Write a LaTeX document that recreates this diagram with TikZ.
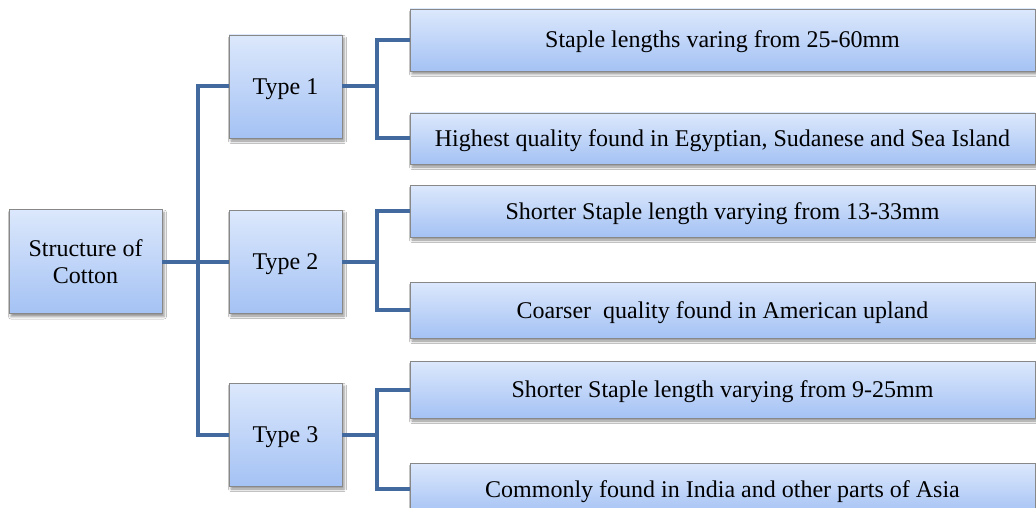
\documentclass[tikz,border=0pt]{standalone}
\usepackage{fontspec}
\setmainfont{Liberation Serif}
\usetikzlibrary{shadows.blur,calc}

\definecolor{linkblue}{RGB}{66,106,158}
\definecolor{boxtop}{RGB}{220,232,252}
\definecolor{boxbot}{RGB}{164,194,244}
\definecolor{boxedge}{RGB}{136,136,136}

\tikzset{
  basebox/.style={
    draw=boxedge, line width=0.9pt,
    top color=boxtop, bottom color=boxbot,
    inner sep=0pt, align=center,
    font=\rmfamily\fontsize{24}{27}\selectfont,
    blur shadow={shadow xshift=2pt, shadow yshift=-3pt,
                 shadow blur radius=2.5pt, shadow opacity=45}
  },
  oneline/.style={text height=21pt, text depth=5pt},
  rootbox/.style={basebox, minimum width=153pt, minimum height=104pt},
  typebox/.style={basebox, oneline, minimum width=113pt, minimum height=103pt},
  leafbox/.style={basebox, oneline, minimum width=625pt},
  link/.style={draw=linkblue, line width=4pt}
}

\begin{document}
\begin{tikzpicture}[x=1pt, y=-1pt]
  \clip (0,0) rectangle (1036,508);
  \fill[white] (0,0) rectangle (1036,508);

  % root and the three cotton types
  \node[rootbox] (root) at (85.5,261.5) {Structure of\\Cotton};
  \node[typebox] (t1) at (285.5,86.5)  {Type 1};
  \node[typebox] (t2) at (285.5,261.5) {Type 2};
  \node[typebox] (t3) at (285.5,434.5) {Type 3};

  % descriptions
  \node[leafbox, minimum height=62pt] (l1) at (722.5,40)    {Staple lengths varing from 25-60mm};
  \node[leafbox, minimum height=51pt] (l2) at (722.5,138.5) {Highest quality found in Egyptian, Sudanese and Sea Island};
  \node[leafbox, minimum height=52pt] (l3) at (722.5,211)   {Shorter Staple length varying from 13-33mm};
  \node[leafbox, minimum height=56pt] (l4) at (722.5,310)   {Coarser\ \ quality found in American upland};
  \node[leafbox, minimum height=57pt] (l5) at (722.5,389.5) {Shorter Staple length varying from 9-25mm};
  \node[leafbox, minimum height=52pt] (l6) at (722.5,489)   {Commonly found in India and other parts of Asia};

  % junction points of the connector trees
  \coordinate (bus) at ($(root.east)+(36,0)$);
  \coordinate (b1) at ($(t1.east)+(35,0)$);
  \coordinate (b2) at ($(t2.east)+(35,0)$);
  \coordinate (b3) at ($(t3.east)+(35,0)$);

  \draw[link] (root.east) -- (bus);
  \draw[link] (t1.west) -| (bus) |- (t3.west);
  \draw[link] (bus) -- (t2.west);

  \draw[link] (t1.east) -- (b1);
  \draw[link] (l1.west) -| (b1) |- (l2.west);
  \draw[link] (t2.east) -- (b2);
  \draw[link] (l3.west) -| (b2) |- (l4.west);
  \draw[link] (t3.east) -- (b3);
  \draw[link] (l5.west) -| (b3) |- (l6.west);
\end{tikzpicture}
\end{document}
